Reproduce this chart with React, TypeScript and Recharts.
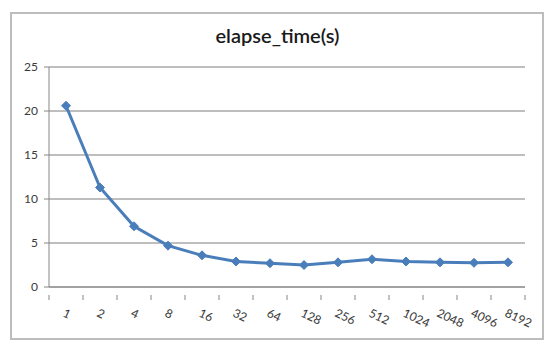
import React from 'react';
import { LineChart, Line, XAxis, YAxis, CartesianGrid } from 'recharts';

const categories = ['1', '2', '4', '8', '16', '32', '64', '128', '256', '512', '1024', '2048', '4096', '8192'];
const elapseTime = [20.6, 11.3, 6.9, 4.7, 3.6, 2.9, 2.7, 2.5, 2.8, 3.15, 2.9, 2.8, 2.75, 2.8];
const yTicks = [0, 5, 10, 15, 20, 25];

// category i sits in the middle of slot [i, i+1], like Excel's "between tick marks"
const data = categories.map((c, i) => ({ pos: i + 0.5, label: c, value: elapseTime[i] }));
const xTicks: number[] = [];
for (let i = 0; i <= categories.length * 2; i++) xTicks.push(i / 2);

const font = 'Lato, "Open Sans", sans-serif';

const XTick = (props: any) => {
    const { x, y, payload } = props;
    const v = payload.value as number;
    if (Number.isInteger(v)) {
        return <line x1={x} y1={y} x2={x} y2={y + 5} stroke="#868686" strokeWidth={1} />;
    }
    const label = categories[Math.floor(v)];
    const ax = x - 4;
    const ay = y + 21;
    return (
        <text x={ax} y={ay} transform={`rotate(25, ${ax}, ${ay})`} textAnchor="start"
            fontSize={12} fill="#3a3a3a" fontFamily={font}>
            {label}
        </text>
    );
};

const Diamond = (props: any) => {
    const { cx, cy, index } = props;
    if (cx == null || cy == null) return null;
    const r = 4.5;
    return (
        <path key={index} d={`M${cx},${cy - r}L${cx + r},${cy}L${cx},${cy + r}L${cx - r},${cy}Z`}
            fill="#4a7ebb" stroke="#4a7ebb" strokeWidth={1} />
    );
};

export default function App() {
    return (
        <div style={{ position: 'absolute', left: 0, top: 0, width: 554, height: 353, background: '#fff' }}>
            <div style={{
                position: 'absolute', left: 10, top: 12, width: 534, height: 328,
                border: '2px solid #bdbdbd', boxSizing: 'border-box'
            }} />
            <div style={{
                position: 'absolute', left: 0, top: 23, width: 555, textAlign: 'center',
                fontFamily: font, fontSize: 20, fontWeight: 600, color: '#1a1a1a'
            }}>
                elapse_time(s)
            </div>
            <div style={{ position: 'absolute', left: 0, top: 0 }}>
                <LineChart width={554} height={353} data={data}
                    margin={{ top: 67, right: 29, bottom: 26, left: 0 }}>
                    <CartesianGrid horizontal vertical={false} stroke="#a8a8a8" strokeWidth={1.3} />
                    <XAxis dataKey="pos" type="number" domain={[0, 14]} ticks={xTicks} interval={0}
                        height={40} tickLine={false} tick={<XTick />} axisLine={{ stroke: '#868686' }} />
                    <YAxis type="number" domain={[0, 25]} ticks={yTicks} width={49} interval={0}
                        tickSize={5} tickMargin={6} axisLine={{ stroke: '#868686' }}
                        tickLine={{ stroke: '#868686' }}
                        tick={{ fontSize: 12, fill: '#3a3a3a', fontFamily: font }} />
                    <Line type="linear" dataKey="value" stroke="#4a7ebb" strokeWidth={3}
                        dot={<Diamond />} activeDot={false} isAnimationActive={false} />
                </LineChart>
            </div>
        </div>
    );
}
